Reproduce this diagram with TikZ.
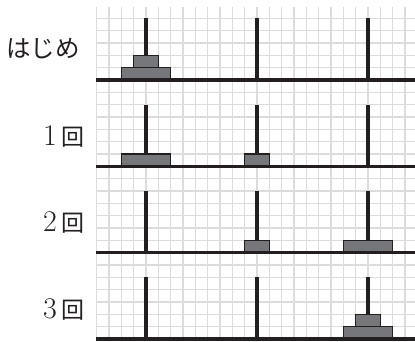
\documentclass[tikz,border=0pt]{standalone}
\usepackage{fontspec}
\newfontfamily\cjk{Noto Sans CJK JP}
\definecolor{ink}{HTML}{231F20}
\definecolor{gridc}{HTML}{DCDCDC}
\definecolor{disk}{HTML}{76777A}
\tikzset{
  gridline/.style={draw=gridc, line width=1.4pt},
  baseline/.style={draw=ink, line width=3.6pt},
  pole/.style={draw=ink, line width=3.4pt},
  disk/.style={fill=disk, draw=ink, line width=1.1pt},
  lab/.style={inner sep=0pt, text=ink, anchor=base east},
}
\newcommand{\cjkfs}{\fontsize{23}{23}\selectfont}
\newcommand{\kanafs}{\fontsize{24.5}{24.5}\selectfont}
\newcommand{\digfs}{\fontsize{30}{30}\selectfont}
\begin{document}
\begin{tikzpicture}[x=1pt,y=-1pt]
\useasboundingbox (0,0) rectangle (415,341);
\fill[white] (0,0) rectangle (415,341);
\def\c{12.333}
% grid
\foreach \i in {0,...,25}
  \draw[gridline] ({96.7+\i*\c},7) -- ({96.7+\i*\c},339);
\foreach \k in {1,...,26}
  \draw[gridline] (96,{339-\k*\c}) -- (415,{339-\k*\c});
% pole positions
\def\xa{146.03}
\def\xb{257.03}
\def\xc{368.03}
% poles
\foreach \b in {80,166.33,252.67,339}{
  \foreach \x in {\xa,\xb,\xc}
    \draw[pole] (\x,\b) -- (\x,{\b-5*\c});
}
% panel 0: both on A
\draw[disk] ({\xa-2*\c},{80-\c}) rectangle ({\xa+2*\c},80);
\draw[disk] ({\xa-\c},{80-2*\c}) rectangle ({\xa+\c},{80-\c});
% panel 1: large on A, small on B
\draw[disk] ({\xa-2*\c},{166.33-\c}) rectangle ({\xa+2*\c},166.33);
\draw[disk] ({\xb-\c},{166.33-\c}) rectangle ({\xb+\c},166.33);
% panel 2: small on B, large on C
\draw[disk] ({\xb-\c},{252.67-\c}) rectangle ({\xb+\c},252.67);
\draw[disk] ({\xc-2*\c},{252.67-\c}) rectangle ({\xc+2*\c},252.67);
% panel 3: both on C
\draw[disk] ({\xc-2*\c},{339-\c}) rectangle ({\xc+2*\c},339);
\draw[disk] ({\xc-\c},{339-2*\c}) rectangle ({\xc+\c},{339-\c});
% baselines
\foreach \b in {80,166.33,252.67,339}
  \draw[baseline] (96,\b) -- (415,\b);
% labels
\node[lab, anchor=base west] (l0) at (6,57.5) {\cjk\kanafs はじめ};
\node[lab] (l1) at (85,145) {\digfs 1\hspace{5pt}\cjk\cjkfs 回};
\node[lab] (l2) at (85,231.5) {\digfs 2\hspace{5pt}\cjk\cjkfs 回};
\node[lab] (l3) at (85,318) {\digfs 3\hspace{5pt}\cjk\cjkfs 回};
\end{tikzpicture}
\end{document}
